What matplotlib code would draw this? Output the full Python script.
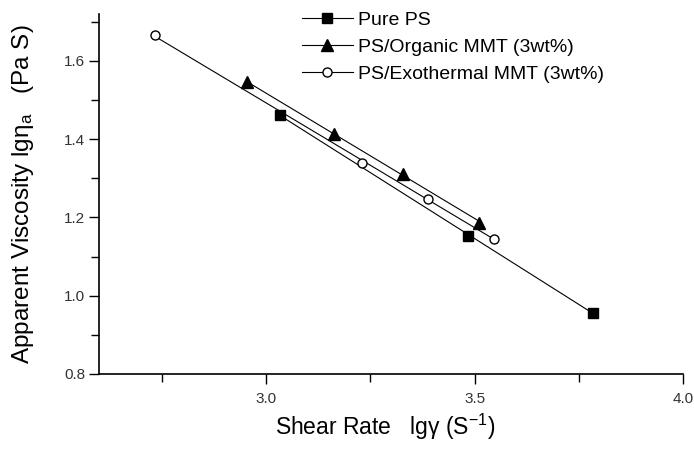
import numpy as np
import matplotlib
matplotlib.use("Agg")
import matplotlib.pyplot as plt
from matplotlib.ticker import MultipleLocator, FormatStrFormatter

plt.rcParams['font.family'] = ['Liberation Sans', 'DejaVu Sans']
plt.rcParams['mathtext.fontset'] = 'custom'
plt.rcParams['mathtext.rm'] = 'Liberation Sans'
plt.rcParams['mathtext.it'] = 'Liberation Sans'
plt.rcParams['mathtext.bf'] = 'Liberation Sans'

# Data
pure_x = [3.034, 3.483, 3.784]
pure_y = [1.462, 1.153, 0.957]
org_x = [2.954, 3.163, 3.329, 3.510]
org_y = [1.545, 1.414, 1.312, 1.187]
exo_x = [2.733, 3.231, 3.387, 3.546]
exo_y = [1.665, 1.340, 1.248, 1.146]
labels = ["Pure PS", "PS/Organic MMT (3wt%)", "PS/Exothermal MMT (3wt%)"]

fig = plt.figure(figsize=(6.94, 4.5), dpi=100)
ax = fig.add_axes([0.1427, 0.169, 0.842, 0.80])

def fitline(x, y):
    x = np.asarray(x); y = np.asarray(y)
    p = np.polyfit(x, y, 1)
    xs = np.array([x.min(), x.max()])
    return xs, np.polyval(p, xs)

series = [
    (pure_x, pure_y, dict(marker='s', mfc='black', mec='black', ms=7)),
    (org_x, org_y, dict(marker='^', mfc='black', mec='black', ms=8)),
    (exo_x, exo_y, dict(marker='o', mfc='white', mec='black', ms=6.5, mew=1.0)),
]
for (x, y, mk), lab in zip(series, labels):
    xs, ys = fitline(x, y)
    ax.plot(xs, ys, color='black', lw=0.8, zorder=1)
    ax.plot(x, y, ls='none', zorder=2, **mk)
    ax.plot([], [], color='black', lw=0.8, label=lab, **mk)

ax.set_xlim(2.6, 4.0)
ax.set_ylim(0.8, 1.72)
ax.xaxis.set_major_locator(MultipleLocator(0.5))
ax.xaxis.set_minor_locator(MultipleLocator(0.25))
ax.yaxis.set_major_locator(MultipleLocator(0.2))
ax.yaxis.set_minor_locator(MultipleLocator(0.1))
ax.xaxis.set_major_formatter(FormatStrFormatter('%.1f'))
ax.yaxis.set_major_formatter(FormatStrFormatter('%.1f'))
for s in ['top', 'right']:
    ax.spines[s].set_visible(False)
ax.spines['left'].set_linewidth(1.2)
ax.spines['bottom'].set_linewidth(1.2)
ax.tick_params(which='major', direction='out', length=7, width=1, labelsize=11,
               labelcolor='#333333')
ax.tick_params(axis='y', which='major', pad=3)
ax.tick_params(axis='x', which='major', pad=6)
ax.tick_params(which='minor', direction='out', length=6, width=1)

ax.set_xlabel("Shear Rate   lg$\\gamma$ (S$^{-1}$)", fontsize=16.5, va='top')
ax.set_ylabel("Apparent Viscosity lg\u03b7$_a$   (Pa S)", fontsize=17.5)
ax.xaxis.set_label_coords(0.49, -0.105)
ax.yaxis.set_label_coords(-0.108, 0.5)

leg = ax.legend(loc='upper left', bbox_to_anchor=(302/694, 1 - 11/450),
                bbox_transform=fig.transFigure, frameon=False,
                fontsize=14, handlelength=2.6, handletextpad=0.3, labelspacing=0.5,
                borderaxespad=0, borderpad=0)

fig.savefig("out.png", dpi=100)
